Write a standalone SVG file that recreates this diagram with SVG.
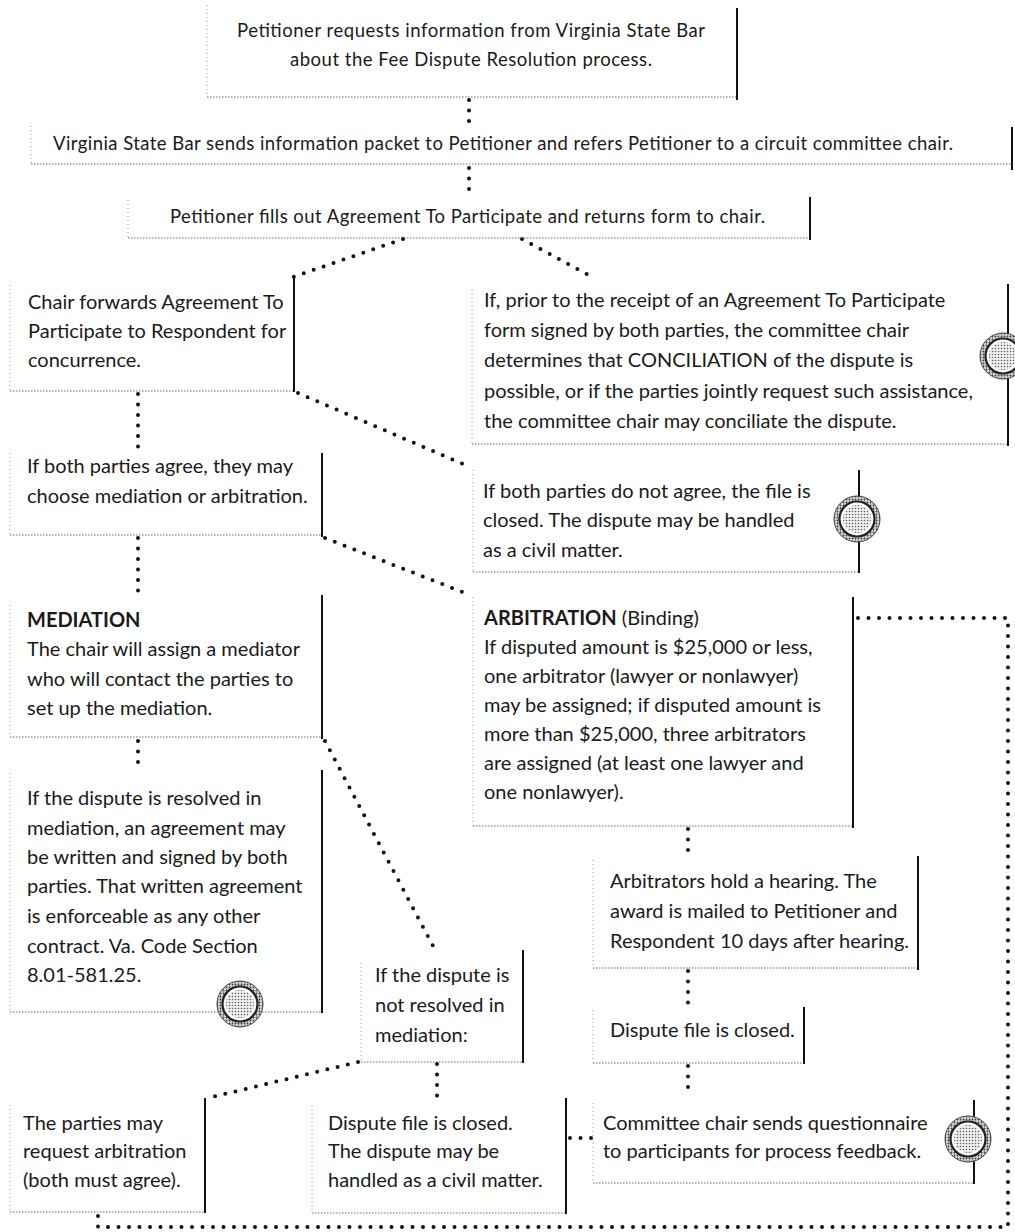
<svg xmlns="http://www.w3.org/2000/svg" xmlns:xlink="http://www.w3.org/1999/xlink" width="1015" height="1232" viewBox="0 0 1015 1232">
<style>
.l{stroke:#9a9a9a;stroke-width:1;stroke-dasharray:1 3;fill:none}
.b{stroke:#6a6a6a;stroke-width:1;stroke-dasharray:1.5 1.5;fill:none}
.r{stroke:#111;stroke-width:2;fill:none}
.t{font-family:Lato,"Noto Sans","Liberation Sans",sans-serif;font-size:20px;fill:#1a1a1a}
.ts{font-size:18.5px}
.bd{font-weight:700}
.c{stroke:#111;stroke-width:4;stroke-linecap:round;stroke-dasharray:0 10.5;fill:none}
</style>
<defs>
<pattern id="stip" width="3" height="3" patternUnits="userSpaceOnUse"><rect width="3" height="3" fill="#d8d8d8"/><circle cx="1.5" cy="1.5" r="0.9" fill="#3a3a3a"/></pattern>
<pattern id="stip2" width="3" height="3" patternUnits="userSpaceOnUse"><rect width="3" height="3" fill="#eeeeee"/><circle cx="1.5" cy="1.5" r="0.8" fill="#666"/></pattern>
<g id="target">
<circle r="23" fill="url(#stip)" stroke="#444" stroke-width="1"/>
<circle r="17.5" fill="#fff" stroke="#222" stroke-width="2.2"/>
<circle r="14" fill="url(#stip2)"/>
</g>
</defs>
<rect width="1015" height="1232" fill="#fff"/>

<g id="connectors">
<path class="c" d="M469,100 V124"/>
<path class="c" d="M469,168 V197"/>
<path class="c" d="M403,239 L293,277"/>
<path class="c" d="M522,239 L592,277"/>
<path class="c" d="M138,394 V450"/>
<path class="c" d="M298,393 L470,467"/>
<path class="c" d="M138,538 V600"/>
<path class="c" d="M325,538 L470,595"/>
<path class="c" d="M138,741 V768"/>
<path class="c" d="M325,741 L433,946"/>
<path class="c" d="M688,829 V857"/>
<path class="c" d="M688,971 V1004"/>
<path class="c" d="M688,1066 V1097"/>
<path class="c" d="M358,1062 L208,1098"/>
<path class="c" d="M437,1064 V1097"/>
<path class="c" d="M570,1138 H592"/>
<path class="c" d="M858,618 H1008 V1227 H98 V1214"/>
</g>

<g id="n1">
<path class="l" d="M207,5 V97"/><path class="b" d="M207,97 H737"/><path class="r" d="M737,8 V100"/>
<text class="t ts" x="471" y="37" text-anchor="middle" textLength="468">Petitioner requests information from Virginia State Bar</text>
<text class="t ts" x="471" y="66" text-anchor="middle" textLength="362">about the Fee Dispute Resolution process.</text>
</g>

<g id="n2">
<path class="l" d="M31,126 V164"/><path class="b" d="M31,164 H1012"/><path class="r" d="M1012,127 V170"/>
<text class="t ts" x="53" y="150" textLength="900">Virginia State Bar sends information packet to Petitioner and refers Petitioner to a circuit committee chair.</text>
</g>

<g id="n3">
<path class="l" d="M128,200 V238"/><path class="b" d="M128,238 H810"/><path class="r" d="M810,197 V240"/>
<text class="t ts" x="170" y="223" textLength="595">Petitioner fills out Agreement To Participate and returns form to chair.</text>
</g>

<g id="n4">
<path class="l" d="M10,285 V391"/><path class="b" d="M10,391 H294"/><path class="r" d="M294,278 V392"/>
<text class="t" x="28" y="309">Chair forwards Agreement To</text>
<text class="t" x="28" y="338">Participate to Respondent for</text>
<text class="t" x="28" y="367">concurrence.</text>
</g>

<g id="n5">
<path class="l" d="M472,290 V444"/><path class="b" d="M472,444 H1008"/><path class="r" d="M1008,284 V446"/>
<text class="t" x="484" y="307">If, prior to the receipt of an Agreement To Participate</text>
<text class="t" x="484" y="337">form signed by both parties, the committee chair</text>
<text class="t" x="484" y="367">determines that CONCILIATION of the dispute is</text>
<text class="t" x="484" y="398">possible, or if the parties jointly request such assistance,</text>
<text class="t" x="484" y="428">the committee chair may conciliate the dispute.</text>
<use xlink:href="#target" x="1003" y="356"/>
</g>

<g id="n5b">
<path class="l" d="M473,470 V572"/><path class="b" d="M473,572 H859"/><path class="r" d="M859,470 V573"/>
<text class="t" x="483" y="498">If both parties do not agree, the file is</text>
<text class="t" x="483" y="527">closed. The dispute may be handled</text>
<text class="t" x="483" y="557">as a civil matter.</text>
<use xlink:href="#target" x="857" y="519"/>
</g>

<g id="n6">
<path class="l" d="M10,453 V535"/><path class="b" d="M10,535 H322"/><path class="r" d="M322,453 V537"/>
<text class="t" x="27" y="473">If both parties agree, they may</text>
<text class="t" x="27" y="503">choose mediation or arbitration.</text>
</g>

<g id="n7">
<path class="l" d="M10,605 V737"/><path class="b" d="M10,737 H322"/><path class="r" d="M322,595 V739"/>
<text class="t bd" x="27" y="627">MEDIATION</text>
<text class="t" x="27" y="656">The chair will assign a mediator</text>
<text class="t" x="27" y="686">who will contact the parties to</text>
<text class="t" x="27" y="715">set up the mediation.</text>
</g>

<g id="n8">
<path class="l" d="M473,597 V826"/><path class="b" d="M473,826 H853"/><path class="r" d="M853,597 V828"/>
<text class="t" x="484" y="625"><tspan class="bd">ARBITRATION</tspan> (Binding)</text>
<text class="t" x="484" y="654">If disputed amount is $25,000 or less,</text>
<text class="t" x="484" y="683">one arbitrator (lawyer or nonlawyer)</text>
<text class="t" x="484" y="712">may be assigned; if disputed amount is</text>
<text class="t" x="484" y="741">more than $25,000, three arbitrators</text>
<text class="t" x="484" y="770">are assigned (at least one lawyer and</text>
<text class="t" x="484" y="799">one nonlawyer).</text>
</g>

<g id="n9">
<path class="l" d="M10,773 V1012"/><path class="b" d="M10,1012 H322"/><path class="r" d="M322,770 V1013"/>
<text class="t" x="27" y="805">If the dispute is resolved in</text>
<text class="t" x="27" y="835">mediation, an agreement may</text>
<text class="t" x="27" y="864">be written and signed by both</text>
<text class="t" x="27" y="893">parties. That written agreement</text>
<text class="t" x="27" y="923">is enforceable as any other</text>
<text class="t" x="27" y="953">contract. Va. Code Section</text>
<text class="t" x="27" y="982">8.01-581.25.</text>
<use xlink:href="#target" x="240" y="1004"/>
</g>

<g id="n10">
<path class="l" d="M361,963 V1062"/><path class="b" d="M361,1062 H523"/><path class="r" d="M523,950 V1063"/>
<text class="t" x="375" y="982">If the dispute is</text>
<text class="t" x="375" y="1012">not resolved in</text>
<text class="t" x="375" y="1042">mediation:</text>
</g>

<g id="n8b">
<path class="l" d="M593,860 V968"/><path class="b" d="M593,968 H918"/><path class="r" d="M918,856 V970"/>
<text class="t" x="610" y="888">Arbitrators hold a hearing. The</text>
<text class="t" x="610" y="918">award is mailed to Petitioner and</text>
<text class="t" x="610" y="948">Respondent 10 days after hearing.</text>
</g>

<g id="n8c">
<path class="l" d="M593,1010 V1063"/><path class="b" d="M593,1063 H804"/><path class="r" d="M804,1007 V1064"/>
<text class="t" x="610" y="1037">Dispute file is closed.</text>
</g>

<g id="n11">
<path class="l" d="M10,1105 V1212"/><path class="b" d="M10,1212 H205"/><path class="r" d="M205,1098 V1213"/>
<text class="t" x="23" y="1130">The parties may</text>
<text class="t" x="23" y="1158">request arbitration</text>
<text class="t" x="23" y="1187">(both must agree).</text>
</g>

<g id="n12">
<path class="l" d="M312,1105 V1213"/><path class="b" d="M312,1213 H566"/><path class="r" d="M566,1098 V1214"/>
<text class="t" x="328" y="1130">Dispute file is closed.</text>
<text class="t" x="328" y="1158">The dispute may be</text>
<text class="t" x="328" y="1187">handled as a civil matter.</text>
</g>

<g id="n13">
<path class="l" d="M593,1103 V1183"/><path class="b" d="M593,1183 H974"/><path class="r" d="M974,1100 V1184"/>
<text class="t" x="603" y="1130">Committee chair sends questionnaire</text>
<text class="t" x="603" y="1158">to participants for process feedback.</text>
<use xlink:href="#target" x="968" y="1139"/>
</g>
</svg>
